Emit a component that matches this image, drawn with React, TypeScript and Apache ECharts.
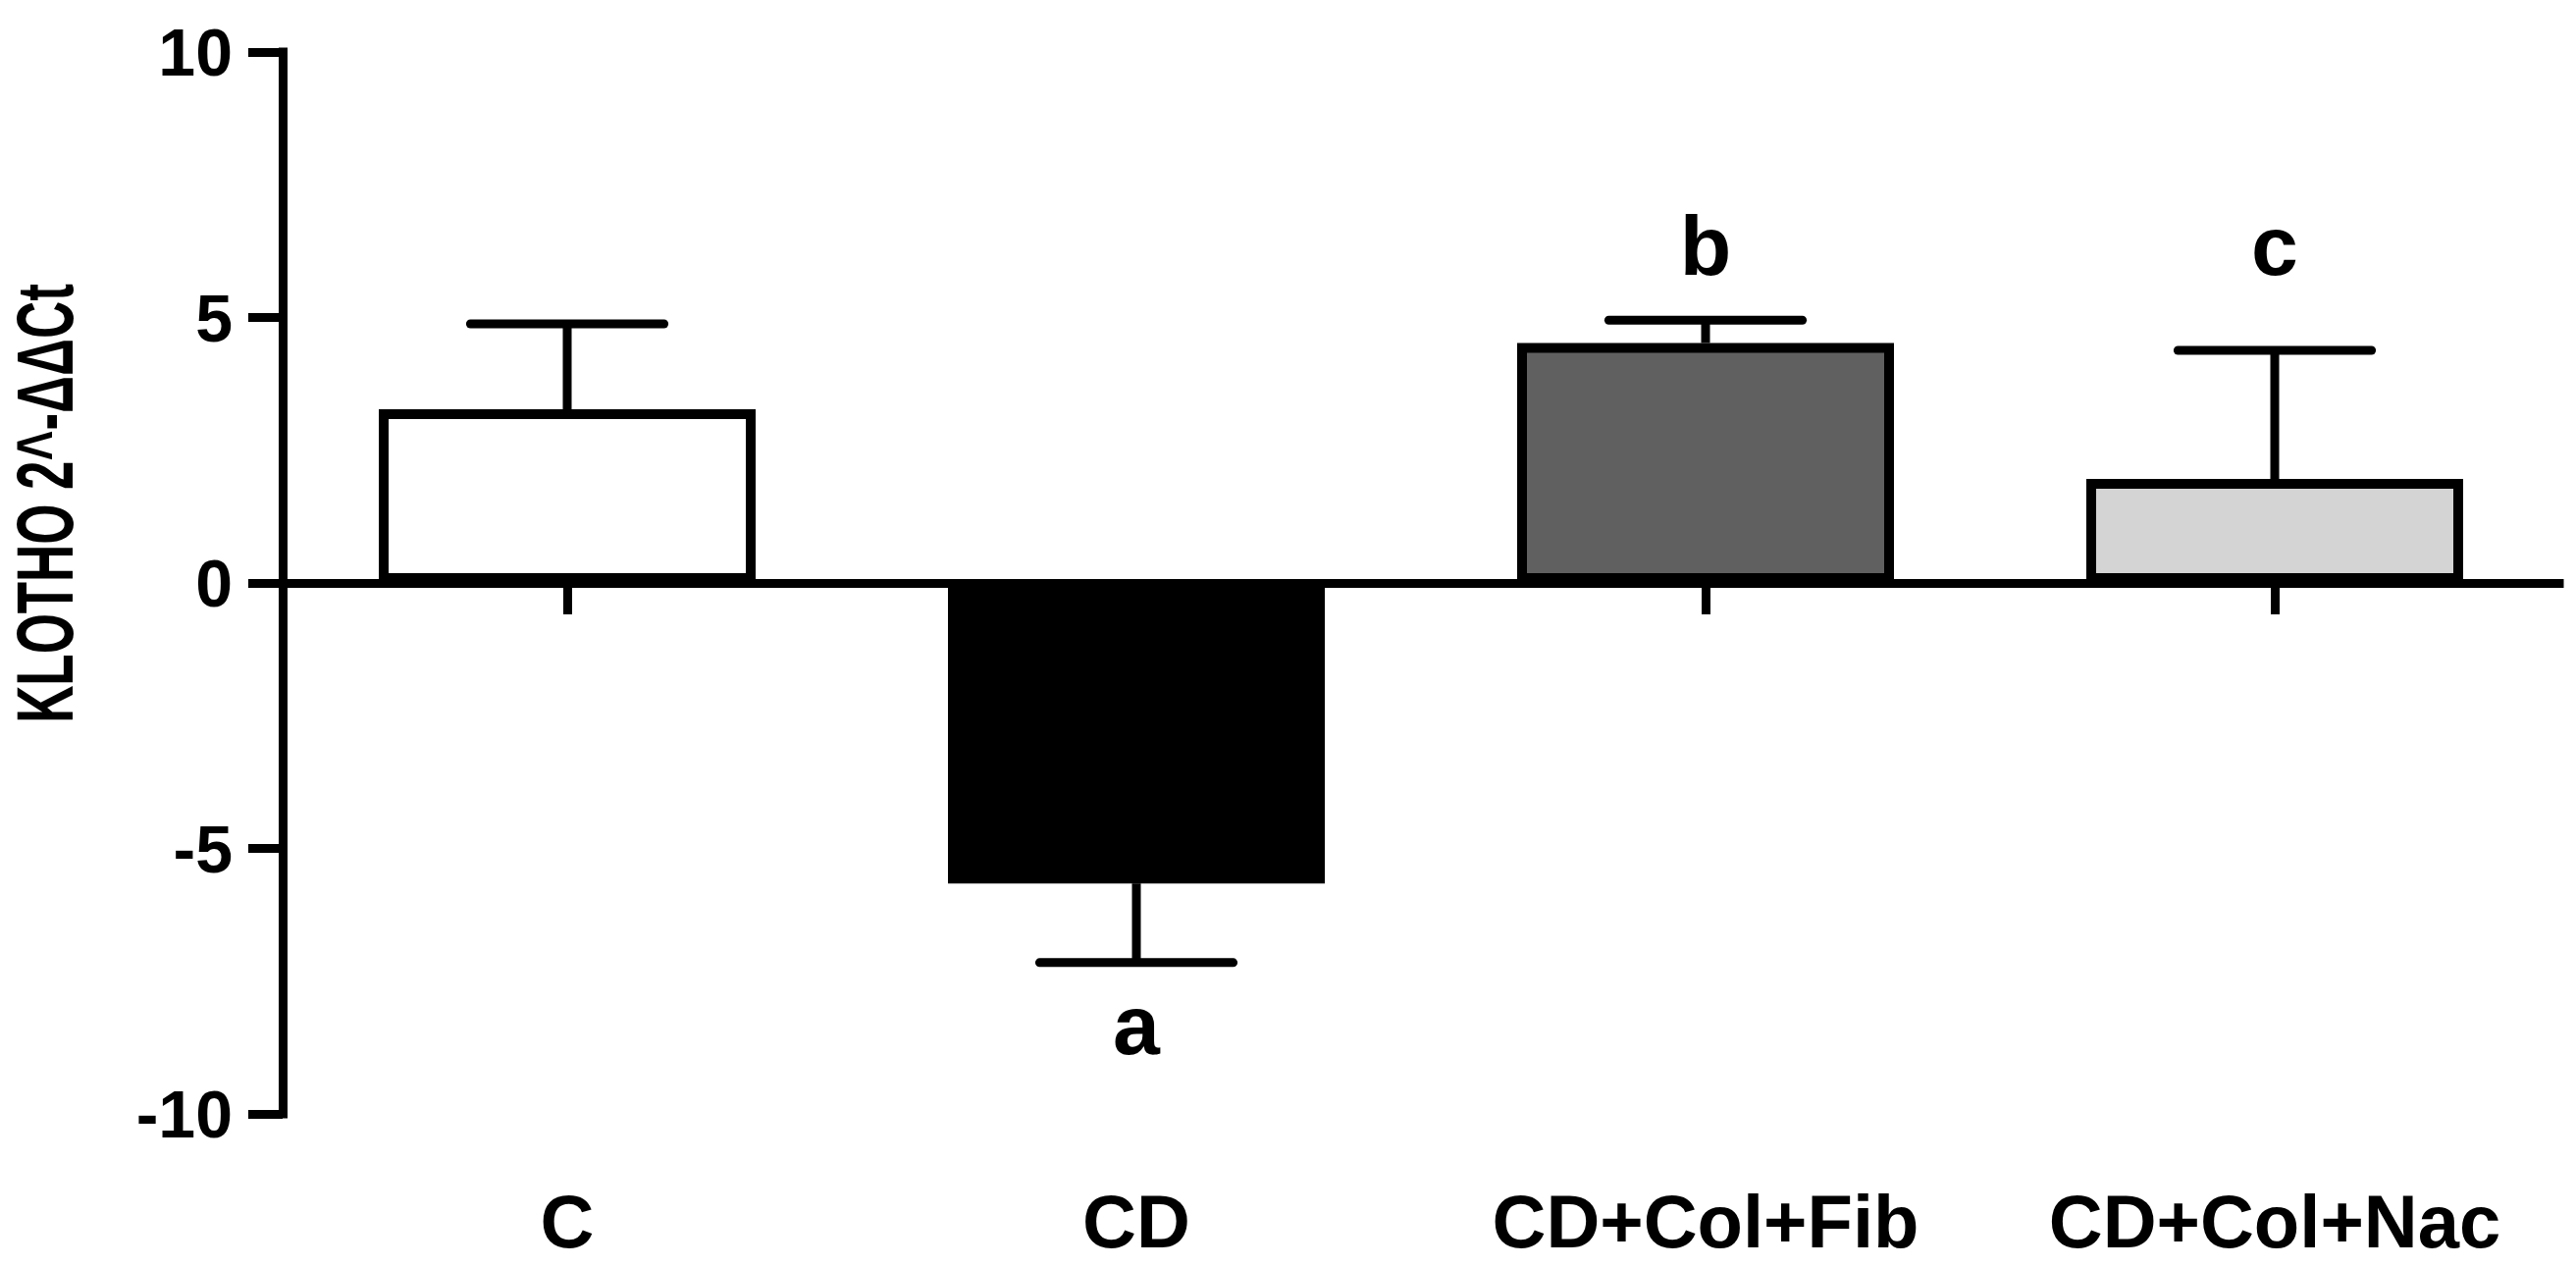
import React, { useEffect, useRef } from "react";
import * as echarts from "echarts";

const categories = ["C", "CD", "CD+Col+Fib", "CD+Col+Nac"];
const means = [3.27, -5.66, 4.52, 1.96];
const errorEnds = [4.88, -7.15, 4.95, 4.38];
const barColors = ["#ffffff", "#000000", "#606060", "#d4d4d4"];
const letters = ["", "a", "b", "c"];
const letterBaselines = [0, -8.87, 5.8, 5.8];
const yMin = -10;
const yMax = 10;
const yInterval = 5;
const yTitle = "KLOTHO 2^-ΔΔCt";

const FONT = "'Liberation Sans', Arial, Helvetica, sans-serif";

export default function App() {
  const ref = useRef<HTMLDivElement>(null);
  useEffect(() => {
    document.body.style.margin = "0";
    const chart = echarts.init(ref.current!, null, { renderer: "svg" });
    const LW = 9;
    const letterSize = 86;
    chart.setOption({
      animation: false,
      backgroundColor: "#ffffff",
      grid: { left: 288, right: 17, top: 53, bottom: 156, containLabel: false },
      xAxis: [
        {
          type: "category",
          data: categories,
          position: "bottom",
          boundaryGap: true,
          axisLine: { onZero: true, lineStyle: { color: "#000", width: LW, cap: "square" } },
          axisTick: { show: true, alignWithLabel: true, length: 32, lineStyle: { color: "#000", width: LW } },
          axisLabel: { show: false },
          splitLine: { show: false },
        },
        {
          type: "category",
          data: categories,
          position: "bottom",
          boundaryGap: true,
          axisLine: { show: false, onZero: false },
          axisTick: { show: false },
          axisLabel: {
            show: true,
            color: "#000",
            fontSize: 76,
            fontWeight: "bold",
            fontFamily: FONT,
            margin: 71,
            interval: 0,
          },
          splitLine: { show: false },
        },
      ],
      yAxis: {
        type: "value",
        min: yMin,
        max: yMax,
        interval: yInterval,
        axisLine: { show: true, lineStyle: { color: "#000", width: LW, cap: "square" } },
        axisTick: { show: true, length: 35, lineStyle: { color: "#000", width: LW } },
        axisLabel: { color: "#000", fontSize: 68, fontWeight: "bold", fontFamily: FONT, margin: 51 },
        splitLine: { show: false },
      },
      graphic: [
        {
          type: "text",
          x: 46,
          y: 513,
          rotation: Math.PI / 2,
          scaleX: 0.645,
          style: {
            text: yTitle,
            font: `bold 82px ${FONT}`,
            fill: "#000",
            align: "center",
            verticalAlign: "middle",
            textAlign: "center",
            textVerticalAlign: "middle",
          },
        },
      ],
      series: [
        {
          type: "bar",
          xAxisIndex: 0,
          yAxisIndex: 0,
          barWidth: 384,
          data: means.map((v, i) => ({
            value: v,
            itemStyle: { color: barColors[i], borderColor: "#000", borderWidth: 10 },
          })),
          z: 2,
        },
        {
          type: "custom",
          xAxisIndex: 0,
          yAxisIndex: 0,
          z: 3,
          data: categories.map((c, i) => [i, means[i], errorEnds[i], letterBaselines[i]]),
          renderItem: (params: any, api: any) => {
            const i = api.value(0);
            const v = api.value(1);
            const e = api.value(2);
            const lb = api.value(3);
            const base = api.coord([i, v]);
            const end = api.coord([i, e]);
            const bw = api.size([1, 0])[0];
            const capHalf = bw * 0.17;
            const children: any[] = [
              {
                type: "line",
                shape: { x1: base[0], y1: base[1], x2: end[0], y2: end[1] },
                style: { stroke: "#000", lineWidth: LW },
              },
              {
                type: "line",
                shape: { x1: end[0] - capHalf, y1: end[1], x2: end[0] + capHalf, y2: end[1] },
                style: { stroke: "#000", lineWidth: LW, lineCap: "round" },
              },
            ];
            const letter = letters[params.dataIndex];
            if (letter) {
              const p = api.coord([i, lb]);
              children.push({
                type: "text",
                x: p[0],
                y: p[1] - 0.35 * letterSize,
                style: {
                  text: letter,
                  font: `bold ${letterSize}px ${FONT}`,
                  fill: "#000",
                  align: "center",
                  verticalAlign: "middle",
                  textAlign: "center",
                  textVerticalAlign: "middle",
                },
              });
            }
            return { type: "group", children };
          },
        },
      ],
    });
    return () => chart.dispose();
  }, []);
  return <div ref={ref} style={{ width: 2625, height: 1291 }} />;
}
